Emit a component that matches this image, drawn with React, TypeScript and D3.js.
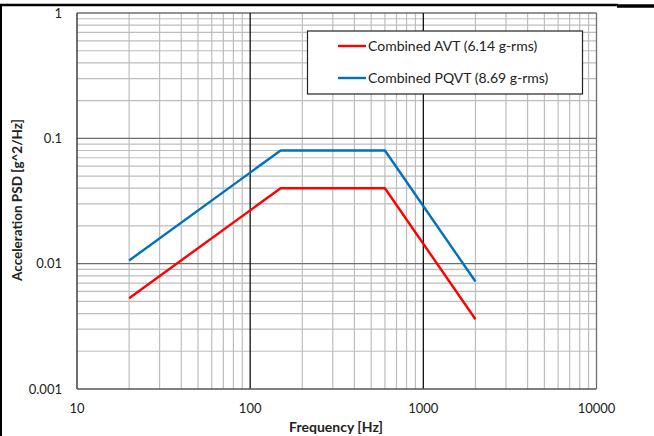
import React from "react";
import * as d3 from "d3";

const freqAVT = [20, 150, 600, 2000];
const psdAVT = [0.0053, 0.04, 0.04, 0.0036];
const freqPQVT = [20, 150, 600, 2000];
const psdPQVT = [0.0106, 0.08, 0.08, 0.0072];
const xTicks = [10, 100, 1000, 10000];
const yTicks = [0.001, 0.01, 0.1, 1];
const seriesNames = ["Combined AVT (6.14 g-rms)", "Combined PQVT (8.69 g-rms)"];
const seriesColors = ["#ff0000", "#0070c0"];

const W = 654;
const H = 436;
const FONT = "Lato, 'Open Sans', sans-serif";

export default function App() {
  const x = d3.scaleLog().domain([10, 10000]).range([77, 596.5]);
  const y = d3.scaleLog().domain([0.001, 1]).range([389, 13]);

  const minorX: number[] = [];
  for (let d = 10; d < 10000; d *= 10) for (let k = 2; k <= 9; k++) minorX.push(d * k);
  const minorY: number[] = [];
  for (let d = 0.001; d < 0.99; d *= 10) for (let k = 2; k <= 9; k++) minorY.push(d * k);

  const line = d3
    .line<[number, number]>()
    .x((d) => x(d[0]))
    .y((d) => y(d[1]));

  const series = [
    { f: freqAVT, p: psdAVT },
    { f: freqPQVT, p: psdPQVT },
  ];

  return (
    <svg
      width={W}
      height={H}
      style={{ position: "fixed", left: 0, top: 0, background: "#fff" }}
      fontFamily={FONT}
    >
      <line x1={0} x2={618} y1={5} y2={5} stroke="#000" strokeWidth={2.5} />
      <line x1={617} x2={654} y1={6} y2={6} stroke="#000" strokeWidth={3.5} />
      <line x1={1} x2={1} y1={4} y2={436} stroke="#000" strokeWidth={2} />

      {minorY.map((v, i) => (
        <line key={"my" + i} x1={x(10)} x2={x(10000)} y1={y(v)} y2={y(v)} stroke="#bdbdbd" strokeWidth={1.2} />
      ))}
      {minorX.map((v, i) => (
        <line key={"mx" + i} x1={x(v)} x2={x(v)} y1={y(1)} y2={y(0.001)} stroke="#bdbdbd" strokeWidth={1.2} />
      ))}
      {yTicks.slice(1).map((v, i) => (
        <line key={"My" + i} x1={x(10)} x2={x(10000)} y1={y(v)} y2={y(v)} stroke="#6e6e6e" strokeWidth={1.3} />
      ))}
      {xTicks.slice(1, 3).map((v, i) => (
        <line key={"Mx" + i} x1={x(v)} x2={x(v)} y1={y(1)} y2={y(0.001)} stroke="#111" strokeWidth={1.3} />
      ))}
      <line x1={x(10000)} x2={x(10000)} y1={y(1)} y2={y(0.001)} stroke="#6e6e6e" strokeWidth={1.3} />
      <line x1={x(10)} x2={x(10)} y1={y(1)} y2={y(0.001)} stroke="#333" strokeWidth={1.4} />
      <line x1={x(10)} x2={x(10000)} y1={y(0.001)} y2={y(0.001)} stroke="#555" strokeWidth={1.4} />

      {series.map((s, i) => (
        <path
          key={"s" + i}
          d={line(s.f.map((f, j) => [f, s.p[j]] as [number, number])) || ""}
          fill="none"
          stroke={seriesColors[i]}
          strokeWidth={2.4}
          strokeLinejoin="round"
        />
      ))}

      {yTicks.map((v, i) => (
        <text key={"yt" + i} x={62} y={y(v)} dy="0.35em" textAnchor="end" fontSize={13} fill="#222">
          {String(v)}
        </text>
      ))}
      {xTicks.map((v, i) => (
        <text key={"xt" + i} x={x(v)} y={413} textAnchor="middle" fontSize={13} fill="#222">
          {String(v)}
        </text>
      ))}

      <text x={336} y={432} textAnchor="middle" fontSize={14} fontWeight="bold" fill="#222">
        Frequency [Hz]
      </text>
      <text
        transform={`translate(22,200) rotate(-90)`}
        textAnchor="middle"
        fontSize={13.5}
        fontWeight="bold"
        fill="#222"
      >
        Acceleration PSD [g^2/Hz]
      </text>

      <rect x={307.5} y={31} width={275} height={63} fill="#fff" stroke="#222" strokeWidth={1.2} />
      {seriesNames.map((n, i) => (
        <g key={"lg" + i} transform={`translate(0,${46 + i * 32})`}>
          <line x1={338} x2={366} y1={0} y2={0} stroke={seriesColors[i]} strokeWidth={2.4} />
          <text x={368} y={0} dy="0.35em" fontSize={14} fill="#222">
            {n}
          </text>
        </g>
      ))}
    </svg>
  );
}
